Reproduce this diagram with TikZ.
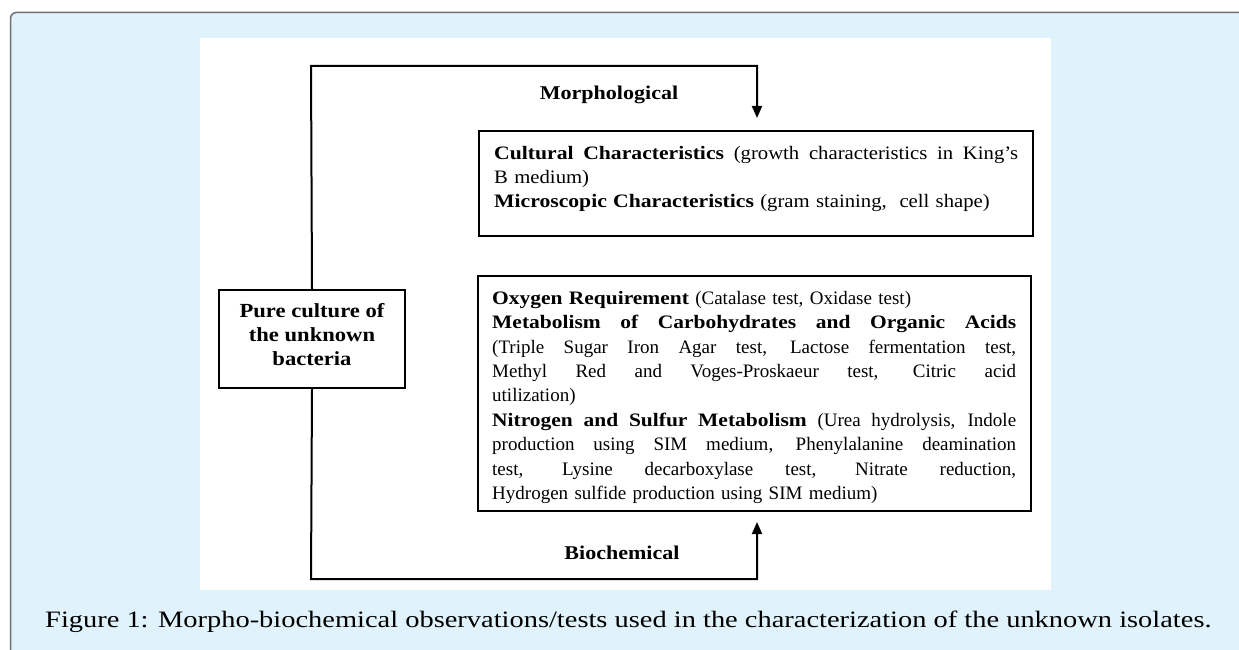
\documentclass[tikz,border=0pt]{standalone}
\usepackage{fontspec}
\setmainfont{Liberation Serif}[BoldFeatures={FakeStretch=1.13}]
\newfontfamily\topfont{Liberation Serif}[FakeStretch=1.09, BoldFeatures={FakeStretch=1.14}]
\newfontfamily\capfont{Liberation Serif}[FakeStretch=1.21]
\usetikzlibrary{arrows.meta}
\definecolor{bgblue}{RGB}{224,242,252}
\definecolor{framegray}{RGB}{112,112,112}
\newcommand{\jline}[1]{\leavevmode{\spaceskip=0.25em plus 1fil\relax\hbox to 524pt{#1}}}
\tikzset{
  box/.style={draw=black, line width=2pt, inner sep=0pt, anchor=north west},
  conn/.style={draw=black, line width=2pt, line join=miter},
  tip/.style={-{Triangle[length=12pt,width=10pt]}},
  lbl/.style={font=\bfseries\fontsize{19.5}{24}\selectfont},
  body/.style={anchor=north west, inner sep=0pt, text width=524pt, align=left,
               font=\fontsize{19}{24.4}\selectfont},
}
\begin{document}
\begin{tikzpicture}[x=1pt,y=-1pt]
\clip (0,0) rectangle (1239,650);
\draw[framegray, line width=1.5pt, fill=bgblue, rounded corners=6pt] (10.5,12.5) rectangle (1270,690);
\fill[white] (200,38) rectangle (1051,590);

% boxes
\node[box, minimum width=554pt, minimum height=105pt] (morph) at (478,130) {};
\node[box, minimum width=553pt, minimum height=235pt] (bio) at (477,275) {};
\node[box, minimum width=186pt, minimum height=98pt] (pure) at (218,289) {};

% box texts
\node[font=\bfseries\fontsize{20}{24}\selectfont, align=center] (puretxt) at ([yshift=4pt]pure.center) {Pure culture of\\the unknown\\bacteria};

\node[body, font=\topfont\fontsize{19}{24}\selectfont] (morphtxt) at (494,146) {%
\jline{\textbf{Cultural Characteristics} (growth characteristics in King’s}\\
B medium)\\
\textbf{Microscopic Characteristics} (gram staining,\ \ cell shape)};

\node[body] (biotxt) at (492,291) {%
\textbf{Oxygen Requirement} (Catalase test, Oxidase test)\\
\jline{\textbf{Metabolism of Carbohydrates and Organic Acids}}\\
\jline{(Triple Sugar Iron Agar test, Lactose fermentation test,}\\
\jline{Methyl Red and Voges-Proskaeur test, Citric acid}\\
utilization)\\
\jline{\textbf{Nitrogen and Sulfur Metabolism} (Urea hydrolysis, Indole}\\
\jline{production using SIM medium, Phenylalanine deamination}\\
\jline{test, Lysine decarboxylase test, Nitrate reduction,}\\
Hydrogen sulfide production using SIM medium)};

% connectors
\coordinate (tl) at (311,66);
\coordinate (tr) at (757,66);
\coordinate (mtip) at (757,118);
\coordinate (bl) at (311,579);
\coordinate (br) at (757,579);
\coordinate (btip) at (757,522);
\draw[conn, tip] (pure.north) -- (tl) -- (tr) -- (mtip);
\draw[conn, tip] (pure.south) -- (bl) -- (br) -- (btip);

\node[lbl] (mlab) at (609,95) {Morphological};
\node[lbl] (blab) at (622,553) {Biochemical};

% caption
\node[anchor=base west, inner sep=0pt, font=\capfont\fontsize{23.5}{27}\selectfont] (cap) at (45,627)
  {Figure 1: Morpho-biochemical observations/tests used in the characterization of the unknown isolates.};
\end{tikzpicture}
\end{document}
